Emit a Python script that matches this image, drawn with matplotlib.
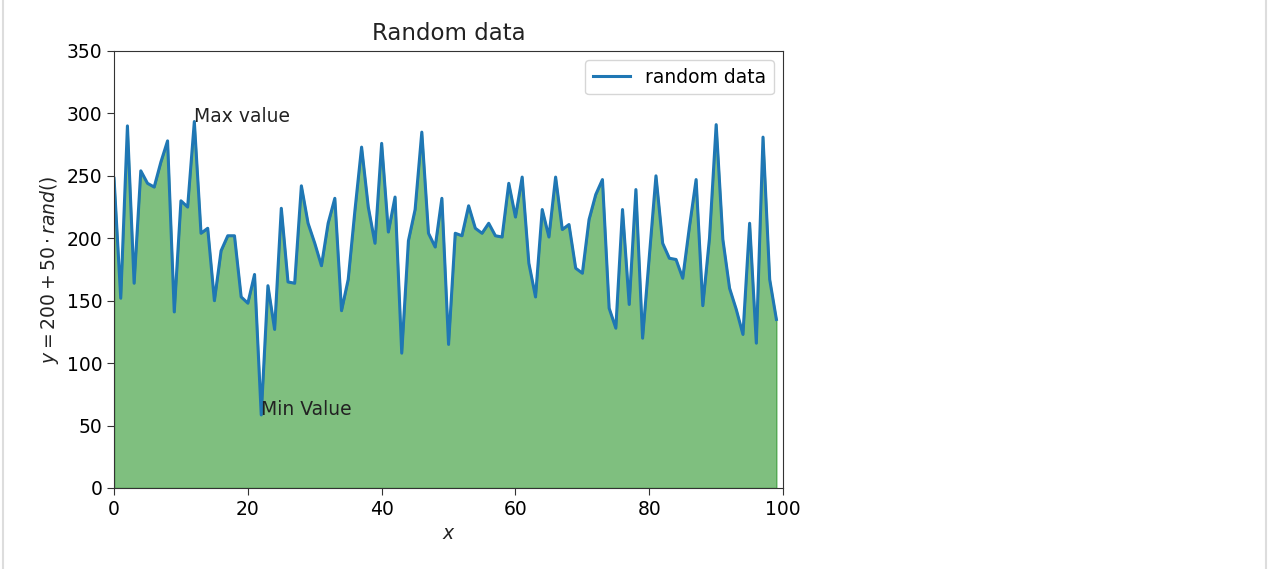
import numpy as np
import matplotlib
matplotlib.use("Agg")
import matplotlib.pyplot as plt
from matplotlib.lines import Line2D

# sample values, one per x position 0..99
y_vals = [
    248, 152, 290, 164, 254, 244, 241, 261, 278, 141,
    230, 225, 293.5, 204, 208, 150, 190, 202, 202, 153,
    148, 171, 58.5, 162, 127, 224, 165, 164, 242, 212,
    196, 178, 212, 232, 142, 167, 222, 273, 225, 196,
    276, 205, 233, 108, 198, 223, 285, 204, 193, 232,
    115, 204, 202, 226, 208, 204, 212, 202, 201, 244,
    217, 249, 180, 153, 223, 201, 249, 207, 211, 176,
    172, 215, 235, 247, 144, 128, 223, 147, 239, 120,
    185, 250, 196, 184, 183, 168, 209, 247, 146, 200,
    291, 199, 160, 143, 123, 212, 116, 281, 167, 135,
]
x_vals = np.arange(len(y_vals))
y = np.array(y_vals)

plt.rcParams['font.family'] = 'DejaVu Sans'
plt.rcParams['font.size'] = 13.5

fig = plt.figure(figsize=(12.7, 5.69), dpi=100)
ax = fig.add_axes([0.0898, 0.1424, 0.5268, 0.768])

ax.plot(x_vals, y, color='tab:blue', lw=2.2, label='random data')
ax.fill_between(x_vals, 0, y, color='green', alpha=0.5)

# mark the extremes
i_max = int(np.argmax(y))
i_min = int(np.argmin(y))
ax.text(x_vals[i_max], y[i_max], 'Max value', fontsize=13.5, color='#222222')
ax.text(x_vals[i_min], y[i_min], 'Min Value', fontsize=13.5, color='#222222')

ax.set_xlim(0, 100)
ax.set_ylim(0, 350)
ax.set_xticks(np.arange(0, 101, 20))
ax.set_yticks(np.arange(0, 351, 50))
ax.tick_params(labelsize=13.5, length=5, color='#333333')
for s in ax.spines.values():
    s.set_color('#333333')

ax.set_title('Random data', fontsize=16.5, pad=8, color='#222222')
ax.set_xlabel('$x$', fontsize=13.5, color='#222222')
ax.set_ylabel(r'$y = 200 + 50 \cdot rand()$', fontsize=13.5, color='#222222')
ax.legend(loc='upper right', fontsize=13.5)

# thin grey edges of the output cell
fig.add_artist(Line2D([0.002, 0.002], [0, 1], color='#dddddd', lw=1.5))
fig.add_artist(Line2D([0.997, 0.997], [0, 1], color='#dddddd', lw=1.5))

fig.savefig('out.png', dpi=100)
